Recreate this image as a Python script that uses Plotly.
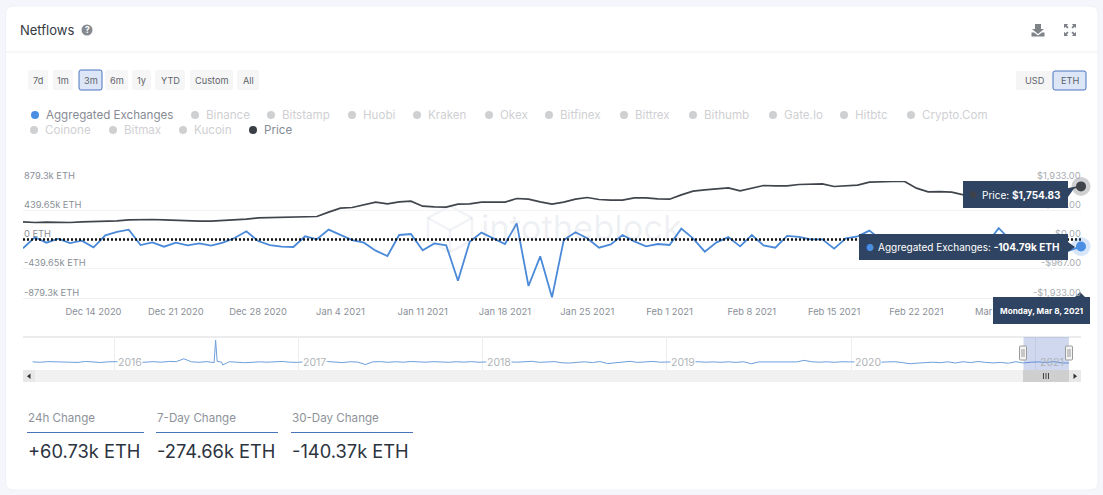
import pandas as pd
import plotly.graph_objects as go

W, H = 1103, 495
FONT = "Inter"

# ---- data ----
netflow_k = [-133, 33, -48, 13, -53, -18, -118, 63, 113, 148, -83, -43, -108, -48, -88, -58, -93, -48, 23, 123,
             -23, -83, -108, -113, 48, 3, 148, 73, -8, -48, -168, -248, 68, 83, -163, -58, -88, -619, -33, 103,
             23, -68, 243, -699, -253, -869, -8, 108, 18, -123, -73, 68, -28, -103, -68, -83, 163, 18, -183, -43,
             35.58, -103, 68, -88, -123, 53, 38, 3, 3, -138, 18, 48, 133, -8, -60, -40, -90, -30, -70, -110,
             -50, -20, -60, 169.87, -8, -60, -30, -90, -50, -165.52, -104.79]
price = [584, 562, 573, 562, 562, 584, 595, 595, 617, 650, 661, 661, 650, 628, 617, 606, 606, 628, 639, 672,
         716, 727, 749, 749, 749, 760, 903, 1035, 1057, 1156, 1233, 1178, 1244, 1266, 1101, 1079, 1068, 1167, 1178, 1233,
         1233, 1233, 1354, 1332, 1244, 1167, 1233, 1332, 1387, 1321, 1299, 1299, 1376, 1376, 1343, 1332, 1475, 1596, 1640, 1684,
         1707, 1607, 1696, 1784, 1773, 1773, 1817, 1839, 1839, 1751, 1773, 1795, 1894, 1916, 1916, 1916, 1696, 1574, 1585, 1563,
         1475, 1480, 1500, 1540, 1520, 1560, 1600, 1650, 1600, 1680, 1754.83]
dates = pd.date_range("2020-12-08", "2021-03-08", freq="D")

nav_values = [20, -30, 40, 30, -10,
              30, -40, 60, 10, -50, 20, 40, -30, 30, -60, 10, 40, -20, 60, 40, 330, 20, -30, 40, -60,
              -20, 30, -40, -70, -30, 20, -20, 30, 60, -20, -40, 30, 10, -30, 50, 20,
              -60, 30, -10, -260, 20, 40, -30, 30, -20, 50, 10, -20, 40, 20, -30, 30, -10, 40, -20, 10,
              30, -40, 20, -20, 40, 70, -30, -10, 40, -80, -110, -30, 20, -60, 50, -160,
              -60, 30, 70, -40, 30, 60, -20, -30, 20, 40, -10, 30, -20, 10, -30, 20, -40, 30, -180, 10,
              20, -10, 30, 60, 10, 170, 30, -20, 20, -30, 30, 10, -20, 20, 40, -30, 10, 30, -60, -180,
              -110, -50, -20, -70, 20, -100, 30, -60, 50, -40, -90, -40, -130, 30, -100, -20, 10, -50, 40, -90, -100]
nav_spike_dates = ["2016-07-17", "2016-07-20", "2016-07-23", "2016-08-03"]
nav_spike_values = [-30, 2250, 60, -300]

tick_dates = pd.date_range("2020-12-14", "2021-03-01", freq="7D")
tick_labels = ["Dec 14 2020", "Dec 21 2020", "Dec 28 2020", "Jan 4 2021", "Jan 11 2021", "Jan 18 2021",
               "Jan 25 2021", "Feb 1 2021", "Feb 8 2021", "Feb 15 2021", "Feb 22 2021", "Mar 1 2021"]
left_vals = [-879.3, -439.65, 0, 439.65, 879.3]
left_text = ["-879.3k ETH", "-439.65k ETH", "0 ETH", "439.65k ETH", "879.3k ETH"]
right_vals = [-1933, -967, 0, 967, 1933]
right_text = ["-$1,933.00", "-$967.00", "$0.00", "$967.00", "$1,933.00"]
range_buttons = ["7d", "1m", "3m", "6m", "1y", "YTD", "Custom", "All"]
legend_row1 = ["Aggregated Exchanges", "Binance", "Bitstamp", "Huobi", "Kraken", "Okex", "Bitfinex", "Bittrex",
               "Bithumb", "Gate.Io", "Hitbtc", "Crypto.Com"]
legend_row2 = ["Coinone", "Bitmax", "Kucoin", "Price"]
stat_labels = ["24h Change", "7-Day Change", "30-Day Change"]
stat_values = ["+60.73k ETH", "-274.66k ETH", "-140.37k ETH"]
nav_years = ["2016", "2017", "2018", "2019", "2020", "2021"]

# ---- helpers ----
px = lambda v: v / W
py = lambda v: 1 - v / H
shapes, annots = [], []


def rrect(x0, y0, x1, y1, r=0, fill="white", line=None, lw=1, layer="above"):
    X0, X1, Y0, Y1 = px(x0), px(x1), py(y0), py(y1)
    rx, ry = r / W, r / H
    path = (f"M{X0+rx},{Y0} L{X1-rx},{Y0} Q{X1},{Y0} {X1},{Y0-ry} L{X1},{Y1+ry} Q{X1},{Y1} {X1-rx},{Y1} "
            f"L{X0+rx},{Y1} Q{X0},{Y1} {X0},{Y1+ry} L{X0},{Y0-ry} Q{X0},{Y0} {X0+rx},{Y0} Z")
    shapes.append(dict(type="path", path=path, xref="paper", yref="paper", fillcolor=fill,
                       line=dict(color=line or "rgba(0,0,0,0)", width=lw if line else 0), layer=layer))


def poly(pts, fill=None, line=None, lw=1, layer="above", close=True):
    p = "M" + " L".join(f"{px(a)},{py(b)}" for a, b in pts) + (" Z" if close else "")
    shapes.append(dict(type="path", path=p, xref="paper", yref="paper", fillcolor=fill or "rgba(0,0,0,0)",
                       line=dict(color=line or "rgba(0,0,0,0)", width=lw if line else 0), layer=layer))


def hline(x0, x1, y, color, lw=1, layer="below"):
    shapes.append(dict(type="line", xref="paper", yref="paper", x0=px(x0), x1=px(x1), y0=py(y), y1=py(y),
                       line=dict(color=color, width=lw), layer=layer))


def circle(cx, cy, r, fill, layer="above"):
    shapes.append(dict(type="circle", xref="paper", yref="paper", x0=px(cx - r), x1=px(cx + r),
                       y0=py(cy + r), y1=py(cy - r), fillcolor=fill, line=dict(width=0), layer=layer))


def text(x, y, s, size, color, anchor="left", **kw):
    annots.append(dict(x=px(x), y=py(y), xref="paper", yref="paper", text=s, showarrow=False, xanchor=anchor,
                       yanchor="middle", borderpad=0, borderwidth=0,
                       font=dict(family=FONT, size=size, color=color), **kw))


def box(x0, y0, x1, y1, color):
    annots.append(dict(x=px(x0), y=py(y0), xref="paper", yref="paper", text=" ", showarrow=False, xanchor="left",
                       yanchor="top", borderpad=0, borderwidth=0, bgcolor=color, width=x1 - x0, height=y1 - y0,
                       font=dict(family=FONT, size=8, color=color)))


# ---- card and header ----
rrect(5.5, 6, 1098, 490, r=8, fill="#ffffff", line="#eef1f6", lw=1, layer="below")
hline(6, 1098, 52, "#eceef2", 1)
text(20, 29.5, "Netflows", 13, "#343a42")
circle(87, 30, 5.5, "#858a90")
text(87, 30, "<b>?</b>", 8.5, "#ffffff", "center")
# download icon
poly([(1035, 24), (1041, 24), (1041, 29), (1044, 29), (1038, 34), (1032, 29), (1035, 29)], fill="#7f8388")
poly([(1031.5, 32.5), (1034, 32.5), (1038, 35.5), (1042, 32.5), (1044.5, 32.5), (1044.5, 36.5), (1031.5, 36.5)],
     fill="#7f8388")
# expand icon
for sx, sy in [(-1, -1), (1, -1), (-1, 1), (1, 1)]:
    c = lambda a, b: (1070 + sx * a, 30 + sy * b)
    poly([c(6, 6), c(1.8, 6), c(3.2, 4.6), c(1.4, 2.8), c(2.8, 1.4), c(4.6, 3.2), c(6, 1.8)], fill="#7f8388")

# ---- range buttons ----
btn_x = [(28, 48), (53, 73), (79, 102), (105, 128), (132, 151), (155, 185), (190, 233), (237, 259)]
for (a, b), lab in zip(btn_x, range_buttons):
    sel = lab == "3m"
    rrect(a, 70, b, 90, r=2, fill="#dde6f6" if sel else "#f6f6f6", line="#4a74c0" if sel else None)
    text((a + b) / 2, 80.5, lab, 9.2, "#5f646b", "center")
rrect(1016, 71, 1053, 90, r=2, fill="#f5f5f5")
text(1034.5, 81, "USD", 9.2, "#5f646b", "center")
rrect(1053, 71, 1086, 90, r=2, fill="#dde6f6", line="#4a74c0")
text(1069.5, 81, "ETH", 9.2, "#5f646b", "center")

# ---- legend ----
row1_x = [35, 195, 271, 352, 417, 489, 549, 624, 693, 773, 844, 911]
row2_x = [34, 113, 183, 253]
for mx, lab in zip(row1_x, legend_row1):
    on = lab == "Aggregated Exchanges"
    circle(mx, 115, 4, "#4a8fe3" if on else "#cfd0d2")
    text(mx + 11, 115, lab, 11.6, "#878c94" if on else "#cfd0d3")
for mx, lab in zip(row2_x, legend_row2):
    on = lab == "Price"
    circle(mx, 130, 4, "#3a3f46" if on else "#cfd0d2")
    text(mx + 11, 130, lab, 11.6, "#878c94" if on else "#cfd0d3")

# ---- watermark ----
WM = "rgba(120,135,165,0.10)"
poly([(450, 206), (472, 218), (472, 240), (450, 252), (428, 240), (428, 218)], line=WM, lw=2.5, layer="below")
poly([(428, 218), (450, 230), (472, 218)], line=WM, lw=2.5, layer="below", close=False)
poly([(450, 230), (450, 252)], line=WM, lw=2.5, layer="below", close=False)
annots.append(dict(x=px(581), y=py(227), xref="paper", yref="paper", text="intotheblock", showarrow=False,
                   font=dict(family=FONT, size=34.5, color="rgba(120,135,165,0.12)")))

# ---- value-axis labels, sitting above their gridlines ----
for v, lab in zip(left_vals, left_text):
    annots.append(dict(x=px(22.5), xref="paper", y=v, yref="y", text=lab, showarrow=False, xanchor="left",
                       yanchor="middle", yshift=6, borderpad=0, font=dict(family=FONT, size=9.3, color="#8a8f97")))
for v, lab in zip(right_vals, right_text):
    annots.append(dict(x=px(1082), xref="paper", y=v, yref="y2", text=lab, showarrow=False, xanchor="right",
                       yanchor="middle", yshift=6, borderpad=0, font=dict(family=FONT, size=9.3, color="#a8acb2")))

# ---- traces ----
fig = go.Figure()
BLUE, DARK = "#4a8ad8", "#40454c"
fig.add_trace(go.Scatter(x=dates, y=netflow_k, mode="lines", line=dict(color=BLUE, width=1.8), yaxis="y", xaxis="x"))
fig.add_trace(go.Scatter(x=dates, y=price, mode="lines", line=dict(color=DARK, width=1.7), yaxis="y2", xaxis="x"))
fig.add_trace(go.Scatter(x=[dates[0], dates[-1]], y=[0, 0], mode="lines",
                         line=dict(color="#111111", width=2.4, dash="2px,2px"), yaxis="y", xaxis="x"))
for series, ax, col, halo in [(price, "y2", DARK, "rgba(64,69,76,0.25)"),
                              (netflow_k, "y", "#4a8fe3", "rgba(74,143,227,0.22)")]:
    fig.add_trace(go.Scatter(x=[dates[-1]], y=[series[-1]], mode="markers", cliponaxis=False, xaxis="x", yaxis=ax,
                             marker=dict(size=19, color=halo, line=dict(width=0))))
    fig.add_trace(go.Scatter(x=[dates[-1]], y=[series[-1]], mode="markers", cliponaxis=False, xaxis="x", yaxis=ax,
                             marker=dict(size=10, color=col, line=dict(width=0))))

nav = pd.concat([
    pd.Series(nav_values, index=pd.date_range(end="2021-03-08", periods=len(nav_values), freq="15D")),
    pd.Series(nav_spike_values, index=pd.to_datetime(nav_spike_dates)),
]).sort_index()
fig.add_trace(go.Scatter(x=nav.index, y=nav.values, mode="lines", line=dict(color="#6d9fdc", width=1),
                         xaxis="x2", yaxis="y3"))

# ---- navigator ----
hline(23, 1081, 337, "#e4e6e9", 1.5)
rrect(23, 370, 1081, 382, fill="#f1f1f1", layer="above")
rrect(1023, 370, 1069, 382, fill="#cfcfcf")
rrect(23, 370, 35, 382, fill="#e8e8e8")
rrect(1069, 370, 1081, 382, fill="#e8e8e8")
poly([(30.5, 373.5), (30.5, 379), (27, 376.2)], fill="#333333")
poly([(1073.5, 373.5), (1073.5, 379), (1077, 376.2)], fill="#333333")
for gx in (1043.5, 1046, 1048.5):
    poly([(gx, 373), (gx, 379)], line="#444444", lw=1, close=False)
shapes.append(dict(type="rect", xref="x2", yref="paper", x0="2020-12-08", x1="2021-03-08", y0=py(370), y1=py(337),
                   fillcolor="rgba(70,105,190,0.26)", line=dict(width=0), layer="above"))
for hx in (1023, 1069):
    rrect(hx - 3.5, 346, hx + 3.5, 360, r=1, fill="#f4f4f4", line="#9a9a9a")
    poly([(hx - 1, 349), (hx - 1, 357)], line="#9a9a9a", close=False)
    poly([(hx + 1, 349), (hx + 1, 357)], line="#9a9a9a", close=False)
for yr in nav_years:
    annots.append(dict(x=f"{yr}-01-01", xref="x2", y=py(362), yref="paper", text=yr, showarrow=False,
                       xanchor="left", yanchor="middle", xshift=3, borderpad=0,
                       bgcolor="rgba(0,0,0,0)" if yr == "2021" else "#ffffff",
                       font=dict(family=FONT, size=10.5, color="#b0b4b9")))

# ---- tooltips ----
NAVY = "#2f4462"
box(963, 181, 1068, 208, NAVY)
poly([(1068, 189), (1075, 187), (1068, 197)], fill=NAVY)
text(973, 194.5, "●", 9, "#3d424a", "center")
text(982, 194.5, "Price: <b>$1,754.83</b>", 10, "#ffffff")
box(859, 234, 1068, 260, NAVY)
poly([(1068, 242), (1075, 247), (1068, 252)], fill=NAVY)
text(870, 247, "●", 9, "#4a8fe3", "center")
text(878, 247, "Aggregated Exchanges: <b>-104.79k ETH</b>", 10, "#ffffff")
box(993, 297, 1090, 324, NAVY)
poly([(1075, 297), (1080, 292), (1085, 297)], fill=NAVY)
text(1041.5, 311, "<b>Monday, Mar 8, 2021</b>", 8.2, "#ffffff", "center")

# ---- stats ----
stat_x = [(27, 144), (156, 278), (291, 413)]
for (a, b), lab, val in zip(stat_x, stat_labels, stat_values):
    text(a + 1, 418, lab, 11.6, "#8d9299")
    hline(a, b, 432.5, "#4a74b8", 1)
    text(a + 1, 451, val, 18.3, "#2b333e")

TICKF = dict(family=FONT, size=9.4, color="#8a8f97")
fig.update_layout(
    width=W, height=H, margin=dict(l=0, r=0, t=0, b=0), autosize=False,
    paper_bgcolor="#f4f6fb", plot_bgcolor="rgba(0,0,0,0)", showlegend=False, hovermode=False,
    font=dict(family=FONT), shapes=shapes, annotations=annots,
    xaxis=dict(domain=[px(23), px(1081)], range=[dates[0], dates[-1]], anchor="y", tickvals=list(tick_dates),
               ticktext=tick_labels, showgrid=False, showline=True, linecolor="#eeeff1", ticks="", tickfont=TICKF,
               ticklabelstandoff=5, zeroline=False),
    yaxis=dict(domain=[py(298), py(181)], range=[-879.3, 879.3], tickvals=left_vals, showticklabels=False,
               gridcolor="#f2f3f5", zeroline=False, showline=False),
    yaxis2=dict(domain=[py(298), py(181)], range=[-1933, 1933], overlaying="y", side="right", anchor="x",
                tickvals=right_vals, showticklabels=False, showgrid=False, zeroline=False),
    xaxis2=dict(domain=[px(23), px(1081)], range=["2015-07-04", "2021-04-01"], anchor="y3",
                tick0="2016-01-01", dtick="M12", showgrid=True, gridcolor="#eceef0", showticklabels=False,
                ticks="", zeroline=False, showline=False),
    yaxis3=dict(domain=[py(370), py(337)], range=[-820, 2570], visible=False, fixedrange=True),
)
fig.write_html("out.html", config=dict(displayModeBar=False), post_script="document.body.style.margin='0';")
